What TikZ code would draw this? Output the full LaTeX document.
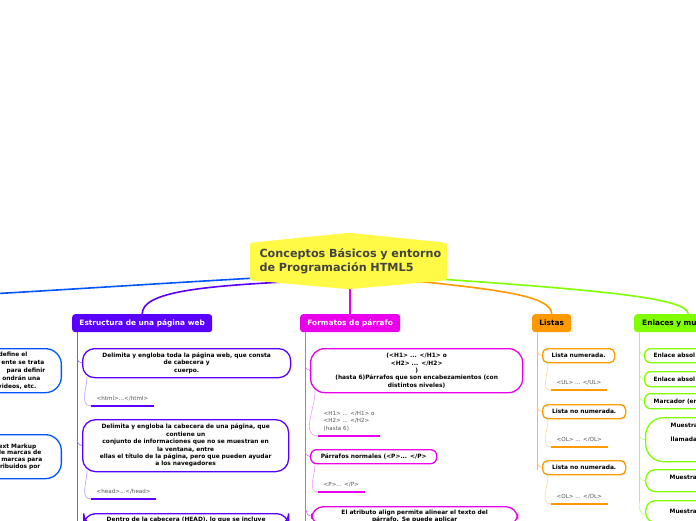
\documentclass[tikz,border=0pt]{standalone}
\usepackage{fontspec}
\setmainfont{DejaVu Sans}
\usetikzlibrary{backgrounds}
\definecolor{RootYellow}{RGB}{255,250,70}
\definecolor{RootText}{RGB}{68,68,68}
\definecolor{BranchBlue}{RGB}{0,85,255}
\definecolor{BranchPurple}{RGB}{90,0,255}
\definecolor{BranchMagenta}{RGB}{235,0,235}
\definecolor{BranchOrange}{RGB}{255,153,0}
\definecolor{BranchGreen}{RGB}{128,255,0}
\definecolor{LeafGray}{RGB}{85,85,85}
\newcommand\padright[1]{\mbox{\hspace{#1}}}

\begin{document}
\begin{tikzpicture}[x=1pt, y=-1pt,
        root/.style={minimum width=197pt, minimum height=37pt, text width=190pt, inner xsep=3.5pt,
                    align=left, text=RootText, font=\fontsize{11.2}{14}\selectfont\bfseries},
        topic/.style={anchor=north west, rounded corners=3pt, minimum height=18pt, inner xsep=0pt,
                    font=\fontsize{7.4}{8.5}\selectfont\bfseries},
        child/.style={anchor=north west, draw, fill=white, line width=1.3pt, inner xsep=2pt,
                    align=center, font=\fontsize{5.9}{7.4}\selectfont\bfseries},
        leaf/.style={anchor=south west, inner xsep=5.5pt, inner ysep=4.5pt, align=left,
                    text=LeafGray, font=\fontsize{5.6}{7.6}\selectfont},
        branch/.style={line width=1.6pt},
        spine/.style={line width=0.8pt},
        twig/.style={line width=0.6pt},
        bar/.style={line width=2.5pt}
]
    \useasboundingbox (0,0) rectangle (696,520);

    % central topic
    \node[root] (root) at (348.5,261.5)
        {\hspace*{6pt}\mbox{Conceptos Básicos y entorno}\\\hspace*{6pt}\mbox{de Programación HTML5}};

    % main topics
    \node[topic, fill=BranchPurple, text=white, minimum width=140pt] (ptop) at (72,314) {Estructura de una página web};
    \node[topic, fill=BranchMagenta, text=white, minimum width=100pt] (mtop) at (300,314) {Formatos de párrafo};
    \node[topic, fill=BranchOrange, minimum width=39pt] (otop) at (532,314) {Listas};
    \node[topic, fill=BranchGreen, text width=92pt, inner xsep=8pt, align=left] (gtop) at (634,314) {Enlaces y mu};
    \coordinate (bend) at (-2,293.5);

    \begin{scope}[on background layer]
        \draw[branch, BranchBlue] ([xshift=20pt, yshift=3pt]root.south west) .. controls (150,284) and (60,290) .. (bend);
        \draw[branch, BranchPurple] ([xshift=50pt, yshift=-1pt]root.south west) .. controls (200,286) and (142,292) .. (ptop.north);
        \draw[branch, BranchMagenta] (mtop.north |- root.south) -- (mtop.north);
        \draw[branch, BranchOrange] ([xshift=-30pt, yshift=-1pt]root.south east) .. controls (500,290) and (551.5,296) .. (otop.north);
        \draw[branch, BranchGreen] ([xshift=-20pt, yshift=2pt]root.south east) .. controls (600,290) and (688,298) .. (gtop.north);
        \fill[RootYellow, rounded corners=2pt] (root.north west) -- ([yshift=10pt]root.north) -- (root.north east)
            -- (root.south east) -- ([yshift=-9pt]root.south) -- (root.south west) -- cycle;
    \end{scope}

    % blue branch (cut at the left edge)
    \node[child, anchor=north east, draw=BranchBlue, rounded corners=16pt, minimum height=44pt,
        text width=110pt, inner xsep=16pt, align=right, font=\fontsize{5.9}{7.9}\selectfont\bfseries] (b1) at (62,348)
        {define el\padright{18pt}\\ente se trata\padright{1pt}\\para definir\\ondrán una\padright{5pt}\\videos, etc.\padright{9pt}};
    \node[child, anchor=north east, draw=BranchBlue, rounded corners=16pt, minimum height=44pt,
        text width=110pt, inner xsep=19pt, align=right, font=\fontsize{5.9}{6.8}\selectfont\bfseries] (b2) at (62,434)
        {ext Markup\padright{6pt}\\le marcas de\padright{1pt}\\marcas para\\ribuidos por\padright{2pt}\\[5pt]};

    % purple branch
    \coordinate (pend) at (77,525);
    \draw[spine, BranchPurple!70] ([xshift=5pt]ptop.south west) -- (pend);
    \node[child, draw=BranchPurple, rounded corners=12pt, text width=204pt, minimum height=29pt] (p1) at (82,348)
        {Delimita y engloba toda la página web, que consta\\de cabecera y\\cuerpo.};
    \node[child, draw=BranchPurple, rounded corners=13pt, text width=202pt, minimum height=52pt] (p2) at (82,419)
        {Delimita y engloba la cabecera de una página, que\\contiene un\\conjunto de informaciones que no se muestran en\\la ventana, entre\\ellas el título de la página, pero que pueden ayudar\\a los navegadores};
    \node[child, draw=BranchPurple, rounded corners=12pt, text width=201pt, inner ysep=3pt] (p3) at (83,513)
        {Dentro de la cabecera (HEAD), lo que se incluye};
    \node[leaf] (l1) at (91,406) {<html>...</html>};
    \node[leaf] (l2) at (91,499) {<head>...</head>};
    \draw[bar, BranchPurple] (l1.south west) -- (l1.south east);
    \draw[bar, BranchPurple] (l2.south west) -- (l2.south east);
    \draw[twig, BranchPurple!60] (p1.west) to[out=180, in=-90] ([xshift=-5pt, yshift=6pt]p1.west);
    \draw[twig, BranchPurple!60] (p2.west) to[out=180, in=-90] ([xshift=-5pt, yshift=6pt]p2.west);
    \draw[twig, BranchPurple!40] ([xshift=5pt, yshift=2pt]p1.south west) to[out=-90, in=180] (l1.south west);
    \draw[twig, BranchPurple!40] ([xshift=5pt, yshift=2pt]p2.south west) to[out=-90, in=180] (l2.south west);

    % magenta branch
    \coordinate (mend) at (305,525);
    \draw[spine, BranchMagenta!70] ([xshift=5pt]mtop.south west) -- (mend);
    \node[child, draw=BranchMagenta, rounded corners=14pt, text width=208pt, minimum height=44pt] (m1) at (310,348)
        {(<H1> ... </H1> o\\<H2> ... </H2>\\)\\(hasta 6)Párrafos que son encabezamientos (con\\distintos niveles)};
    \node[child, draw=BranchMagenta, rounded corners=6pt, text width=122pt, minimum height=14pt] (m2) at (310,449)
        {Párrafos normales (<P>... </P>};
    \node[child, draw=BranchMagenta, rounded corners=12pt, text width=202pt, inner ysep=3pt] (m3) at (311,506)
        {El atributo align permite alinear el texto del\\párrafo. Se puede aplicar};
    \node[leaf] (n1) at (318,436) {<H1> ... </H1> o\\<H2> ... </H2>\\(hasta 6)};
    \node[leaf] (n2) at (318,492) {<P>... </P>};
    \draw[bar, BranchMagenta] (n1.south west) -- (n1.south east);
    \draw[bar, BranchMagenta] (n2.south west) -- (n2.south east);
    \draw[twig, BranchMagenta!60] (m1.west) to[out=180, in=-90] ([xshift=-5pt, yshift=6pt]m1.west);
    \draw[twig, BranchMagenta!60] (m2.west) to[out=180, in=-90] ([xshift=-5pt, yshift=6pt]m2.west);
    \draw[twig, BranchMagenta!60] (m3.west) to[out=180, in=-90] ([xshift=-5pt, yshift=6pt]m3.west);
    \draw[twig, BranchMagenta!40] ([xshift=5pt, yshift=2pt]m1.south west) to[out=-90, in=180] (n1.south west);
    \draw[twig, BranchMagenta!40] ([xshift=5pt]m2.south west) to[out=-90, in=180] (n2.south west);

    % orange branch
    \coordinate (oend) at (537,470);
    \draw[spine, BranchOrange!70] ([xshift=5pt]otop.south west) -- (oend);
    \node[child, draw=BranchOrange, rounded corners=5pt, text width=68pt, minimum height=14pt] (o1) at (542,348) {Lista numerada.};
    \node[child, draw=BranchOrange, rounded corners=5pt, text width=79pt, minimum height=14pt] (o2) at (542,404) {Lista no numerada.};
    \node[child, draw=BranchOrange, rounded corners=5pt, text width=79pt, minimum height=14pt] (o3) at (542,460) {Lista no numerada.};
    \node[leaf] (u1) at (551,390) {<UL> ... </UL>};
    \node[leaf] (u2) at (551,447) {<OL> ... </OL>};
    \node[leaf] (u3) at (551,504) {<OL> ... </OL>};
    \draw[bar, BranchOrange] (u1.south west) -- (u1.south east);
    \draw[bar, BranchOrange] (u2.south west) -- (u2.south east);
    \draw[bar, BranchOrange] (u3.south west) -- (u3.south east);
    \draw[twig, BranchOrange!60] (o1.west) to[out=180, in=-90] ([xshift=-5pt, yshift=6pt]o1.west);
    \draw[twig, BranchOrange!60] (o2.west) to[out=180, in=-90] ([xshift=-5pt, yshift=6pt]o2.west);
    \draw[twig, BranchOrange!60] (o3.west) to[out=180, in=-90] ([xshift=-5pt, yshift=6pt]o3.west);
    \draw[twig, BranchOrange!40] ([xshift=6pt]o1.south west) to[out=-90, in=180] (u1.south west);
    \draw[twig, BranchOrange!40] ([xshift=6pt]o2.south west) to[out=-90, in=180] (u2.south west);
    \draw[twig, BranchOrange!40] ([xshift=6pt]o3.south west) to[out=-90, in=180] (u3.south west);

    % green branch (cut at the right edge)
    \coordinate (gend) at (639,503);
    \draw[spine, BranchGreen!70] ([xshift=5pt]gtop.south west) -- (gend);
    \node[child, draw=BranchGreen, rounded corners=6pt, text width=80pt, inner xsep=9pt, align=left, minimum height=14pt] (g1) at (644,348) {Enlace absol};
    \node[child, draw=BranchGreen, rounded corners=6pt, text width=80pt, inner xsep=9pt, align=left, minimum height=15pt] (g2) at (644,371) {Enlace absol};
    \node[child, draw=BranchGreen, rounded corners=6pt, text width=80pt, inner xsep=9pt, align=left, minimum height=15pt] (g3) at (644,393) {Marcador (en};
    \node[child, draw=BranchGreen, rounded corners=18pt, text width=60pt, inner xsep=25pt, align=left, minimum height=44pt] (g4) at (645,417)
        {Muestra\\[6.5pt]llamada\\[6.5pt]~};
    \node[child, draw=BranchGreen, rounded corners=10pt, text width=60pt, inner xsep=24pt, align=left, minimum height=22pt] (g5) at (645,469)
        {Muestra\\~};
    \node[child, draw=BranchGreen, rounded corners=10pt, text width=60pt, inner xsep=24pt, align=left, inner ysep=3.5pt, minimum height=22pt] (g6) at (645,500)
        {Muestra};
    \draw[twig, BranchGreen!60] (g1.west) to[out=180, in=-90] ([xshift=-5pt, yshift=6pt]g1.west);
    \draw[twig, BranchGreen!60] (g2.west) to[out=180, in=-90] ([xshift=-5pt, yshift=6pt]g2.west);
    \draw[twig, BranchGreen!60] (g3.west) to[out=180, in=-90] ([xshift=-5pt, yshift=6pt]g3.west);
    \draw[twig, BranchGreen!60] (g4.west) to[out=180, in=-90] ([xshift=-6pt, yshift=6pt]g4.west);
    \draw[twig, BranchGreen!60] (g5.west) to[out=180, in=-90] ([xshift=-6pt, yshift=6pt]g5.west);
    \draw[twig, BranchGreen!60] ([yshift=-3pt]g6.west) to[out=180, in=-90] (gend);
\end{tikzpicture}
\end{document}
